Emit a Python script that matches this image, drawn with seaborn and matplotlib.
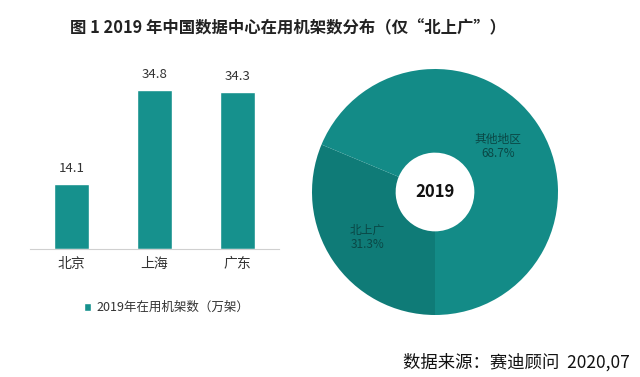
import matplotlib
matplotlib.use("Agg")
import matplotlib.pyplot as plt
import seaborn as sns
import pandas as pd

# 数据
cities = ["北京", "上海", "广东"]
racks = [14.1, 34.8, 34.3]
pie_labels = ["北上广", "其他地区"]
pie_shares = [31.3, 68.7]

title = "图 1 2019 年中国数据中心在用机架数分布（仅“北上广”）"
legend_label = "2019年在用机架数（万架）"
source = "数据来源：赛迪顾问  2020,07"

sns.set_style("white")
plt.rcParams['font.family'] = ['Noto Sans CJK SC', 'DejaVu Sans']

bar_color = "#16918d"
pie_colors = ["#0f7b77", "#138b87"]

W, H = 640, 377
fig = plt.figure(figsize=(6.4, 3.77), dpi=100)

# 柱状图
ax1 = fig.add_axes([30 / W, 1 - 249 / H, 249 / W, 183 / H])
df = pd.DataFrame({"city": cities, "racks": racks})
sns.barplot(data=df, x="city", y="racks", color=bar_color, width=0.41,
            saturation=1, ax=ax1, label=legend_label)
ax1.set_xlim(-0.5, 2.5)
ax1.set_ylim(0, 40)
for i, v in enumerate(racks):
    ax1.text(i, v + 2.0, f"{v}", ha="center", va="bottom", fontsize=9.5, color="#333333")
ax1.set_xlabel("")
ax1.set_ylabel("")
ax1.set_yticks([])
for s in ["top", "right", "left"]:
    ax1.spines[s].set_visible(False)
ax1.spines["bottom"].set_color("#d0d0d0")
ax1.tick_params(axis="x", length=0, pad=6, labelsize=10, labelcolor="#333333")
ax1.legend(loc="center left", bbox_to_anchor=(0.17, -0.32), frameon=False,
           fontsize=9, handlelength=0.6, handleheight=0.6, handletextpad=0.4,
           labelcolor="#333333")

# 环形图
ax2 = fig.add_axes([312 / W, 1 - 315 / H, 246 / W, 246 / H])
ax2.pie(pie_shares, colors=pie_colors, startangle=270, counterclock=False,
        wedgeprops=dict(width=0.68, linewidth=0))
ax2.set_xlim(-1, 1)
ax2.set_ylim(-1, 1)
ax2.set_aspect("equal")
ax2.text(0, 0, "2019", ha="center", va="center", fontsize=12, fontweight="bold", color="#111111")
ax2.text(0.51, 0.37, f"{pie_labels[1]}\n{pie_shares[1]}%", ha="center", va="center",
         fontsize=8.5, color="#0a4745", linespacing=1.1)
ax2.text(-0.55, -0.37, f"{pie_labels[0]}\n{pie_shares[0]}%", ha="center", va="center",
         fontsize=8.5, color="#0a4745", linespacing=1.1)

fig.text(288 / W, 1 - 28 / H, title, ha="center", va="center", fontsize=11.8,
         fontweight="bold", color="#222222")
fig.text(630 / W, 1 - 362 / H, source, ha="right", va="center", fontsize=12.5, color="#111111")

fig.savefig("out.png", dpi=100)
